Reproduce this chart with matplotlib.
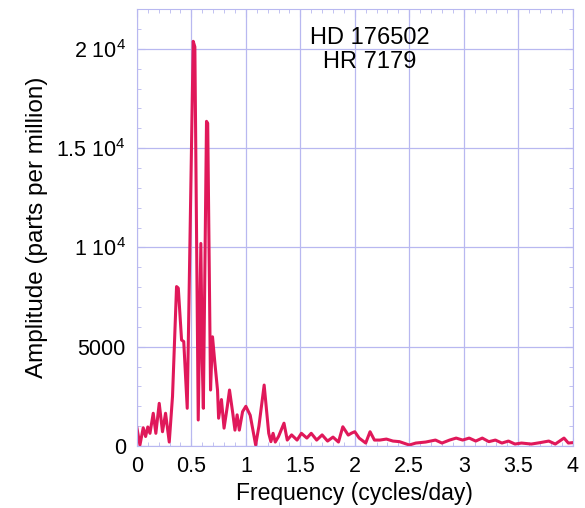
import numpy as np
import matplotlib.pyplot as plt
from matplotlib.ticker import MultipleLocator, FuncFormatter

plt.rcParams['font.family'] = ['Liberation Sans', 'DejaVu Sans']
plt.rcParams['mathtext.fontset'] = 'custom'
plt.rcParams['mathtext.rm'] = 'Liberation Sans'

# amplitude spectrum
freq = [0.0, 0.028, 0.058, 0.08, 0.10, 0.12, 0.15, 0.174, 0.205, 0.235, 0.263, 0.297,
        0.327, 0.364, 0.38, 0.41, 0.43, 0.462, 0.517, 0.532, 0.563, 0.587, 0.60,
        0.61, 0.639, 0.65, 0.676, 0.694, 0.716, 0.74, 0.75, 0.776, 0.80, 0.83, 0.85,
        0.88, 0.90, 0.92, 0.94, 0.97, 1.0, 1.04, 1.09, 1.12, 1.168, 1.21, 1.23, 1.25,
        1.27, 1.30, 1.35, 1.38, 1.42, 1.47, 1.51, 1.56, 1.60, 1.65, 1.70, 1.75, 1.80,
        1.85, 1.89, 1.94, 1.97, 2.0, 2.04, 2.10, 2.14, 2.18, 2.23, 2.29, 2.35, 2.41,
        2.50, 2.56, 2.65, 2.74, 2.80, 2.87, 2.93, 2.99, 3.05, 3.11, 3.17, 3.23, 3.29,
        3.35, 3.41, 3.47, 3.53, 3.62, 3.70, 3.78, 3.84, 3.92, 3.96, 4.0]
amp = [920, 50, 920, 480, 960, 640, 1650, 640, 2150, 720, 1650, 200,
       2500, 8030, 7950, 5340, 5260, 1900, 20380, 20100, 1310, 10200, 4200,
       1900, 16350, 16250, 2820, 5500, 4170, 2820, 1400, 2340, 900, 2000, 2820,
       1650, 800, 1570, 800, 1730, 2000, 1550, 50, 1000, 3070, 640, 220, 640,
       200, 480, 1150, 300, 560, 300, 640, 400, 640, 300, 560, 250, 450,
       200, 970, 550, 650, 720, 400, 150, 720, 300, 300, 350, 250, 220,
       50, 150, 200, 300, 150, 300, 400, 300, 400, 250, 400, 220, 300,
       150, 250, 100, 150, 100, 170, 250, 100, 400, 150, 170]

line_color = '#e0185a'
grid_color = '#b8b8f0'

fig = plt.figure(figsize=(5.85, 5.08), dpi=100)
ax = fig.add_axes([0.234, 0.122, 0.745, 0.86])
ax.plot(freq, amp, color=line_color, lw=2.2)

ax.set_xlim(0, 4)
ax.set_ylim(0, 22000)
ax.xaxis.set_major_locator(MultipleLocator(0.5))
ax.xaxis.set_minor_locator(MultipleLocator(0.1))
ax.yaxis.set_major_locator(MultipleLocator(5000))
ax.yaxis.set_minor_locator(MultipleLocator(1000))


def yfmt(v, pos):
    if v == 0:
        return '0'
    if v == 5000:
        return '5000'
    m = v / 1e4
    s = ('%g' % m)
    return s + r' 10$^4$'


ax.yaxis.set_major_formatter(FuncFormatter(yfmt))
ax.xaxis.set_major_formatter(FuncFormatter(lambda v, p: '%g' % v))
ax.grid(True, which='major', color=grid_color, lw=0.9)
for s in ax.spines.values():
    s.set_color(grid_color)
ax.tick_params(which='both', direction='in', top=True, right=True, color=grid_color,
               labelsize=15.5)
ax.tick_params(which='major', length=6)
ax.tick_params(which='minor', length=3)
ax.tick_params(axis='y', pad=8)
ax.tick_params(axis='x', pad=7)

ax.set_xlabel('Frequency (cycles/day)', fontsize=16.5, labelpad=4)
ax.set_ylabel('Amplitude (parts per million)', fontsize=17.5, labelpad=6)
ax.text(0.535, 0.935, 'HD 176502', transform=ax.transAxes, ha='center', va='center', fontsize=17)
ax.text(0.535, 0.878, 'HR 7179', transform=ax.transAxes, ha='center', va='center', fontsize=17)

fig.savefig('out.png', dpi=100)
